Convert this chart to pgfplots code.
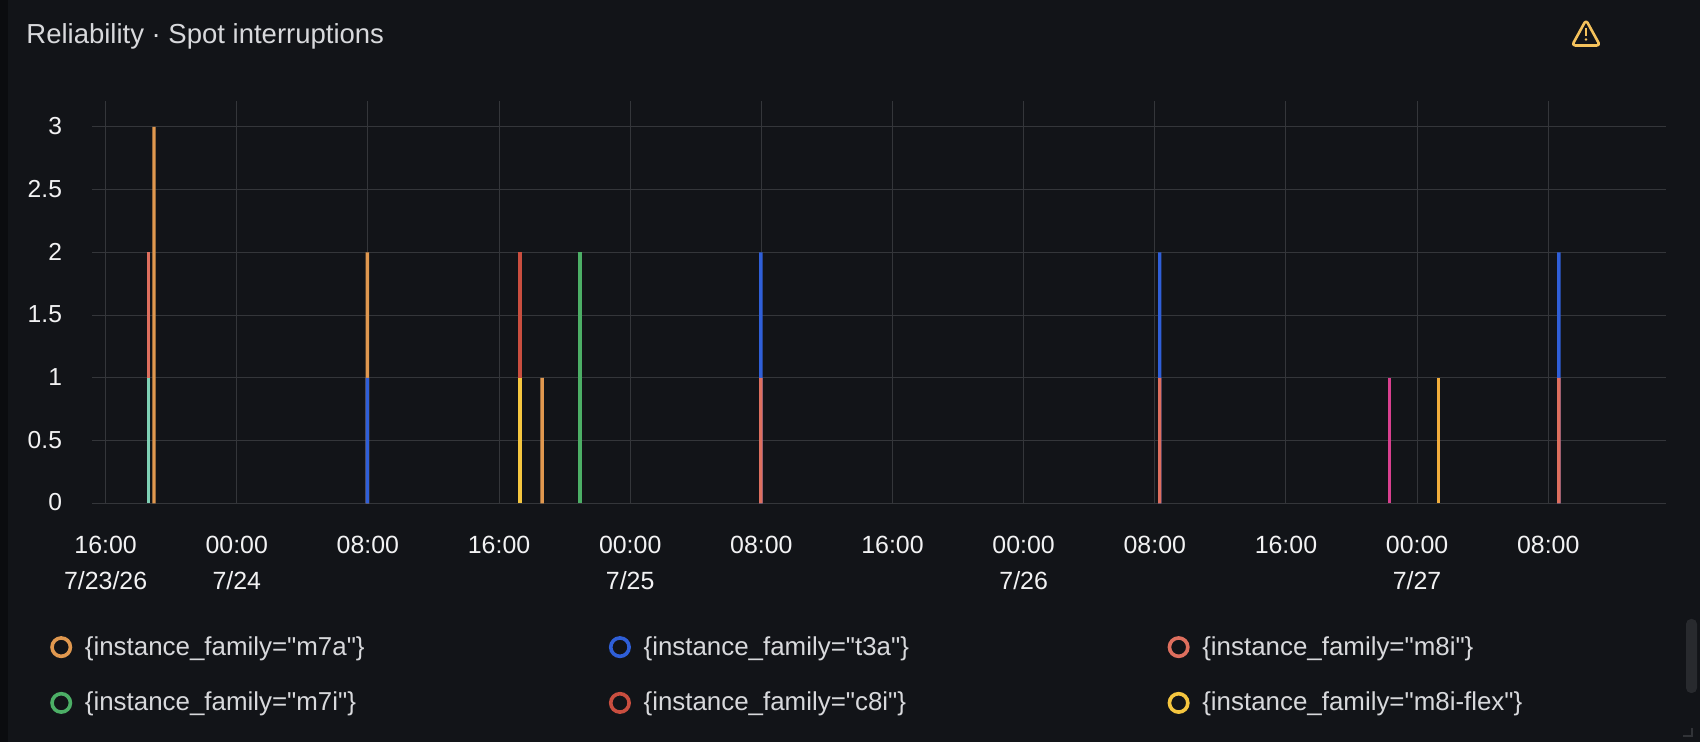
\documentclass[border=0pt]{standalone}
\usepackage{fontspec}
\setmainfont{Liberation Sans}[Ligatures=TeXOff]
\usepackage{pgfplots}
\pgfplotsset{compat=1.18}
\definecolor{bg}{HTML}{121418}
\definecolor{strip}{HTML}{0B0C0F}
\definecolor{gridc}{HTML}{34363A}
\definecolor{tickc}{HTML}{F2F2F3}
\definecolor{legc}{HTML}{D8D9DC}
\definecolor{m7a}{HTML}{E0984F}
\definecolor{t3a}{HTML}{2F5FD8}
\definecolor{m8i}{HTML}{DE6F5E}
\definecolor{m7i}{HTML}{4CAF66}
\definecolor{c8i}{HTML}{C94E3F}
\definecolor{flex}{HTML}{F5C63F}
\definecolor{teal}{HTML}{7FD1B5}
\definecolor{pink}{HTML}{D9408F}
\definecolor{amber}{HTML}{F2AE3C}
\definecolor{warn}{HTML}{F4C25C}
\begin{document}
\begin{tikzpicture}[x=0.5pt,y=0.5pt]
\path[use as bounding box] (0,0) rectangle (1700,742);
\fill[bg] (0,0) rectangle (1700,742);
\fill[strip] (0,0) rectangle (8,742);
% title
\node[anchor=west,inner sep=0pt,text=legc,font=\fontsize{13.75}{15}\selectfont] at (26,706) {Reliability · Spot interruptions};
% warning icon
\draw[color=warn,line width=1.3pt,line join=round,rounded corners=1.6pt] (1586,722) -- (1600,696.5) -- (1572,696.5) -- cycle;
\draw[color=warn,line width=1.1pt] (1586,714) -- (1586,706);
\fill[color=warn] (1586,702.5) circle (1.3);
% scrollbar and resize corner
\fill[color=gridc!65!bg,rounded corners=2.5pt] (1686,49) rectangle (1697,123);
\draw[color=gridc!90!bg,line width=1.2pt] (1683,6) -- (1692,6) -- (1692,14);
\begin{axis}[
  at={(46pt,119.35pt)},anchor=south west,
  scale only axis,width=786.8pt,height=201pt,
  xmin=-0.83,xmax=95.16,ymin=0,ymax=3.203,
  xtick={0,8,16,24,32,40,48,56,64,72,80,88},
  xticklabels={{16:00\\7/23/26},{00:00\\7/24},08:00,16:00,{00:00\\7/25},08:00,16:00,{00:00\\7/26},08:00,16:00,{00:00\\7/27},08:00},
  ytick={0,0.5,1,1.5,2,2.5,3},
  /pgf/number format/assume math mode=true,
  xticklabel style={align=center,anchor=north,font=\fontsize{12.45}{18.3}\selectfont,text=tickc,yshift=-12.8pt},
  yticklabel style={anchor=east,font=\fontsize{12.3}{14}\selectfont,text=tickc,xshift=-11.5pt,yshift=0.4pt},
  grid=major,major grid style={draw=gridc,line width=0.5pt},
  axis line style={draw=none},
  tick style={draw=none},
  legend columns=3,
  legend style={at={(-0.0268,-0.3198)},anchor=north west,draw=none,fill=none,inner sep=0pt,
    cells={anchor=west,text width=260pt,align=left,text=legc,font=\fontsize{12.95}{14}\selectfont},
    row sep=13pt},
  legend image code/.code={\draw[#1,line width=1.8pt,fill=none] (0cm,0cm) circle (4.6pt);\path (9.65pt,0pt);},
  every axis plot/.append style={ybar,bar width=1.7pt,bar shift=0pt,draw=none},
]
% upper parts of stacked columns first (cumulative height), lower parts over them
\addplot[ybar,fill=m7a,draw=none,forget plot] coordinates {(2.952,3) (15.97,2) (26.63,1)};
\addplot[ybar,fill=m8i,draw=none,forget plot] coordinates {(2.617,2)};
\addplot[ybar,fill=teal,draw=none,forget plot] coordinates {(2.617,1)};
\addplot[ybar,fill=t3a,draw=none,forget plot] coordinates {(15.97,1) (39.97,2) (64.3,2) (88.65,2)};
\addplot[ybar,fill=m8i,draw=none,forget plot] coordinates {(39.97,1) (64.3,1) (88.65,1)};
\addplot[ybar,fill=c8i,draw=none,forget plot] coordinates {(25.28,2)};
\addplot[ybar,fill=flex,draw=none,forget plot] coordinates {(25.28,1)};
\addplot[ybar,fill=m7i,draw=none,forget plot] coordinates {(28.94,2)};
\addplot[ybar,fill=pink,draw=none,forget plot] coordinates {(78.3,1)};
\addplot[ybar,fill=amber,draw=none,forget plot] coordinates {(81.32,1)};
\addlegendimage{draw=m7a}\addlegendentry{\{instance\_family="m7a"\}}
\addlegendimage{draw=t3a}\addlegendentry{\{instance\_family="t3a"\}}
\addlegendimage{draw=m8i}\addlegendentry{\{instance\_family="m8i"\}}
\addlegendimage{draw=m7i}\addlegendentry{\{instance\_family="m7i"\}}
\addlegendimage{draw=c8i}\addlegendentry{\{instance\_family="c8i"\}}
\addlegendimage{draw=flex}\addlegendentry{\{instance\_family="m8i-flex"\}}
\end{axis}
\end{tikzpicture}
\end{document}
